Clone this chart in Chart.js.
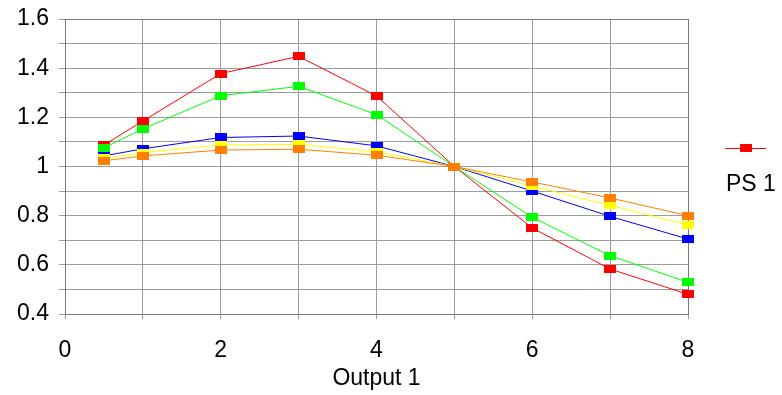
<!DOCTYPE html>
<html>
<head>
<meta charset="utf-8">
<script src="https://cdn.jsdelivr.net/npm/chart.js@4/dist/chart.umd.min.js"></script>
<style>
  html, body { margin: 0; padding: 0; background: #fff; }
  #wrap { width: 782px; height: 395px; }
</style>
</head>
<body>
<div id="wrap"><canvas id="chart" width="782" height="395"></canvas></div>
<script>
// x positions of the points (Output 1)
const xValues = [0.5, 1, 2, 3, 4, 5, 6, 7, 8];

// series values
const redValues    = [1.087, 1.185, 1.378, 1.448, 1.287, 1.0, 0.750, 0.583, 0.480];
const greenValues  = [1.076, 1.153, 1.288, 1.326, 1.211, 1.0, 0.793, 0.637, 0.529];
const blueValues   = [1.043, 1.072, 1.118, 1.124, 1.084, 1.0, 0.900, 0.797, 0.705];
const yellowValues = [1.034, 1.056, 1.088, 1.090, 1.060, 1.0, 0.920, 0.842, 0.762];
const orangeValues = [1.023, 1.043, 1.067, 1.070, 1.046, 1.0, 0.937, 0.872, 0.800];

const legendLabel = 'PS 1';
const xTitle = 'Output 1';

const FONT = '"Liberation Sans", Arial, sans-serif';
const GRID = '#9c9c9c';
const BORDER = '#7a7a7a';

// little filled rectangle used as the point marker
function marker(color) {
    const c = document.createElement('canvas');
    c.width = 12;
    c.height = 8;
    const g = c.getContext('2d');
    g.fillStyle = color;
    g.fillRect(0, 0, 12, 8);
    return c;
}

function series(label, values, color, order) {
    return {
        label: label,
        data: xValues.map((x, i) => ({ x: x, y: values[i] })),
        borderColor: color,
        backgroundColor: color,
        borderWidth: 1,
        pointStyle: marker(color),
        pointRadius: 6,
        pointHoverRadius: 6,
        tension: 0,
        clip: false,
        order: order
    };
}

// frame round the plot + the small legend on the right
const framePlugin = {
    id: 'frame',
    beforeDatasetsDraw(chart) {
        const { ctx, chartArea: a } = chart;
        ctx.save();
        ctx.strokeStyle = BORDER;
        ctx.lineWidth = 1;
        ctx.strokeRect(a.left + 0.5, a.top + 0.5, a.right - a.left, a.bottom - a.top);
        ctx.restore();
    },
    afterDraw(chart) {
        const { ctx, chartArea: a } = chart;
        const lx = a.right + 37;
        const ly = 148;
        ctx.save();
        ctx.strokeStyle = '#ff0000';
        ctx.lineWidth = 1;
        ctx.beginPath();
        ctx.moveTo(lx, ly + 0.5);
        ctx.lineTo(lx + 41, ly + 0.5);
        ctx.stroke();
        ctx.drawImage(marker('#ff0000'), lx + 15, ly - 4);
        ctx.fillStyle = '#000';
        ctx.font = '23px ' + FONT;
        ctx.textBaseline = 'alphabetic';
        ctx.fillText(legendLabel, lx + 1, 191);
        ctx.restore();
    }
};

new Chart(document.getElementById('chart'), {
    type: 'line',
    data: {
        datasets: [
            series('PS 1', redValues, '#ff0000', 5),
            series('PS 2', greenValues, '#00ff00', 4),
            series('PS 3', blueValues, '#0000ff', 3),
            series('PS 4', yellowValues, '#ffff00', 2),
            series('PS 5', orangeValues, '#ff8000', 1)
        ]
    },
    options: {
        responsive: false,
        animation: false,
        layout: { padding: { top: 19, right: 94, left: 0, bottom: 0 } },
        plugins: {
            legend: { display: false },
            tooltip: { enabled: false }
        },
        scales: {
            x: {
                type: 'linear',
                min: 0,
                max: 8,
                afterFit: (scale) => { scale.height = 81; },
                border: { display: true, color: BORDER },
                grid: { color: GRID, tickColor: GRID, tickLength: 5 },
                ticks: {
                    stepSize: 1,
                    autoSkip: false,
                    maxRotation: 0,
                    padding: 18,
                    color: '#000',
                    font: { family: FONT, size: 23 },
                    callback: (v) => (v % 2 === 0 ? String(v) : '')
                },
                title: {
                    display: true,
                    text: xTitle,
                    color: '#000',
                    font: { family: FONT, size: 23 },
                    padding: { top: 0, bottom: 3 }
                }
            },
            y: {
                min: 0.4,
                max: 1.6,
                afterFit: (scale) => {
                    scale.width = 65;
                    scale.paddingTop = 0;
                    scale.paddingBottom = 0;
                },
                border: { display: true, color: BORDER },
                grid: { color: GRID, tickColor: GRID, tickLength: 6 },
                ticks: {
                    stepSize: 0.1,
                    autoSkip: false,
                    padding: 10,
                    color: '#000',
                    font: { family: FONT, size: 23 },
                    callback: (v) => {
                        const k = Math.round(v * 10);
                        return k % 2 === 0 ? String(k / 10) : '';
                    }
                }
            }
        }
    },
    plugins: [framePlugin]
});
</script>
</body>
</html>
